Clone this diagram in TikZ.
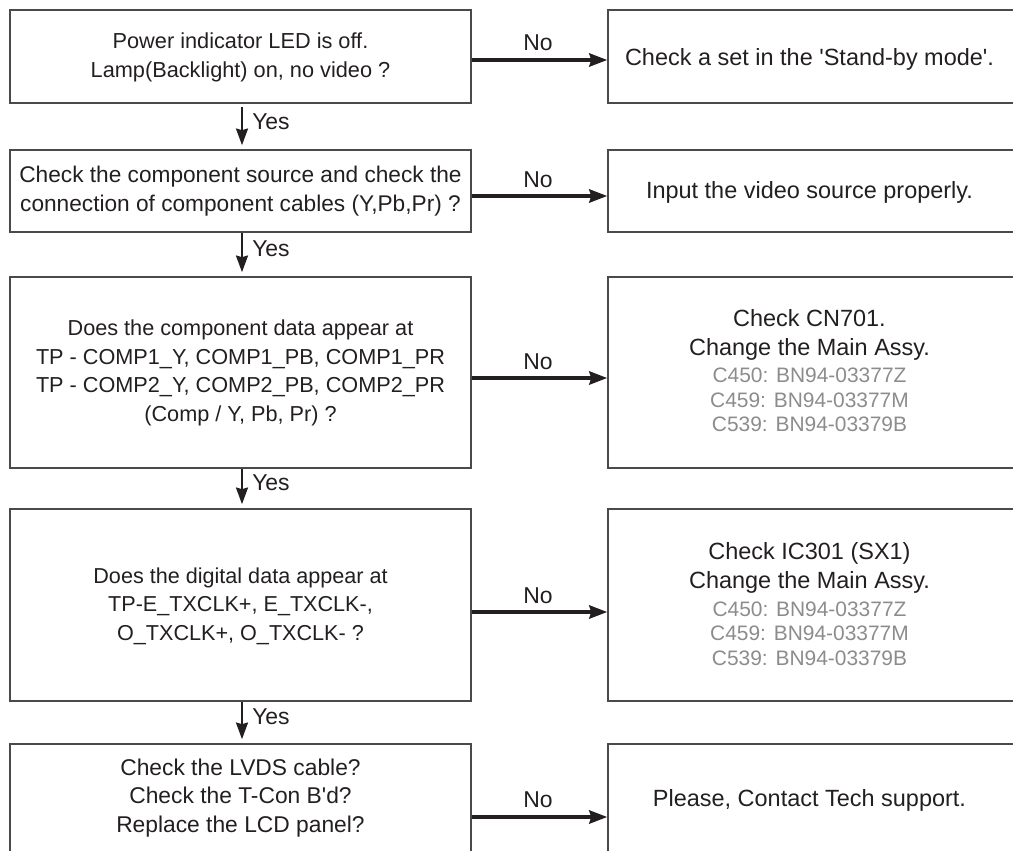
\documentclass[tikz,border=0pt]{standalone}
\usepackage{fontspec}
\setmainfont{Liberation Sans}[Ligatures=TeXOff]
\usetikzlibrary{arrows.meta}
\definecolor{ink}{HTML}{231F20}
\definecolor{frame}{HTML}{4A4A4A}
\definecolor{partgray}{HTML}{8C8C8C}
\tikzset{
  lbox/.style={draw=frame, line width=1.2pt, minimum width=461*0.75pt, inner sep=0pt},
  rbox/.style={draw=frame, line width=1.2pt, minimum width=412*0.75pt, inner sep=0pt},
  noarrow/.style={draw=ink, line width=2.3pt, -{Stealth[length=13.5pt,width=10pt,inset=1.5pt]}},
  yesarrow/.style={draw=ink, line width=1.5pt, -{Stealth[length=12.5pt,width=9pt,inset=1.2pt]}},
  lbl/.style={text=ink, inner sep=0pt, font=\fontsize{17.2pt}{20pt}\selectfont},
  ptxt/.style={text=ink, align=center, inner sep=0pt, font=\fontsize{17.6pt}{21.75pt}\selectfont},
  fsz/.style={font=\fontsize{#1}{21.4pt}\selectfont},
  parttxt/.style={text=partgray, align=center, inner sep=0pt, font=\fontsize{15.7pt}{18.5pt}\selectfont},
}
\begin{document}
\begin{tikzpicture}[x=0.75pt,y=-0.75pt]
\useasboundingbox (0,0) rectangle (1013,850);
\clip (0,0) rectangle (1013,850);
% left boxes
\node[lbox, minimum height=93*0.75pt] (q1) at (240.5,56.5) {};
\node[ptxt, fsz=16.3pt] (t1) at (240.5,57.5) {Power indicator LED is off.\\Lamp(Backlight) on, no video ?};
\node[lbox, minimum height=82*0.75pt] (q2) at (240.5,191) {};
\node[ptxt, fsz=17pt] (t2) at (240.5,191) {Check the component source and check the\\connection of component cables (Y,Pb,Pr) ?};
\node[lbox, minimum height=191*0.75pt] (q3) at (240.5,372.5) {};
\node[ptxt, fsz=16.25pt] (t3) at (240.5,373) {Does the component data appear at\\TP - COMP1\_Y, COMP1\_PB, COMP1\_PR\\TP - COMP2\_Y, COMP2\_PB, COMP2\_PR\\(Comp / Y, Pb, Pr) ?};
\node[lbox, minimum height=192*0.75pt] (q4) at (240.5,605) {};
\node[ptxt, fsz=16.2pt] (t4) at (240.5,606) {Does the digital data appear at\\TP-E\_TXCLK+, E\_TXCLK-,\\O\_TXCLK+, O\_TXCLK- ?};
\node[lbox, minimum height=130*0.75pt] (q5) at (240.5,809) {};
\node[ptxt, fsz=17.1pt] (t5) at (240.5,798) {Check the LVDS cable?\\Check the T-Con B'd?\\Replace the LCD panel?};
% right boxes
\node[rbox, minimum height=93*0.75pt] (a1) at (814,56.5) {};
\node[ptxt] (s1) at (809.5,59) {Check a set in the 'Stand-by mode'.};
\node[rbox, minimum height=82*0.75pt] (a2) at (814,191) {};
\node[ptxt] (s2) at (809.5,192) {Input the video source properly.};
\node[rbox, minimum height=191*0.75pt] (a3) at (814,372.5) {};
\node[ptxt] (s3) at (809.5,334.5) {Check CN701.\\Change the Main Assy.};
\node[parttxt] (p3) at (809.5,400) {C450: BN94-03377Z\\C459: BN94-03377M\\C539: BN94-03379B};
\node[rbox, minimum height=192*0.75pt] (a4) at (814,605) {};
\node[ptxt] (s4) at (809.5,567.5) {Check IC301 (SX1)\\Change the Main Assy.};
\node[parttxt] (p4) at (809.5,633.5) {C450: BN94-03377Z\\C459: BN94-03377M\\C539: BN94-03379B};
\node[rbox, minimum height=130*0.75pt] (a5) at (814,809) {};
\node[ptxt] (s5) at (809.5,800) {Please, Contact Tech support.};
% No arrows
\coordinate (n1s) at (q1.east |- 0,60);
\coordinate (n2s) at (q2.east |- 0,196);
\coordinate (n3s) at (q3.east |- 0,378);
\coordinate (n4s) at (q4.east |- 0,612);
\coordinate (n5s) at (q5.east |- 0,817);
\draw[noarrow] (n1s) -- (a1.west |- n1s);
\draw[noarrow] (n2s) -- (a2.west |- n2s);
\draw[noarrow] (n3s) -- (a3.west |- n3s);
\draw[noarrow] (n4s) -- (a4.west |- n4s);
\draw[noarrow] (n5s) -- (a5.west |- n5s);
\node[lbl] (no1) at (538,43) {No};
\node[lbl] (no2) at (538,180) {No};
\node[lbl] (no3) at (538,362) {No};
\node[lbl] (no4) at (538,596) {No};
\node[lbl] (no5) at (538,800) {No};
% Yes arrows
\coordinate (y1s) at (242,107);
\coordinate (y2s) at (242,233);
\coordinate (y3s) at (242,469);
\coordinate (y4s) at (242,702);
\draw[yesarrow] (y1s) -- ([yshift=3pt]q2.north -| y1s);
\draw[yesarrow] (y2s) -- ([yshift=3pt]q3.north -| y2s);
\draw[yesarrow] (y3s) -- ([yshift=3pt]q4.north -| y3s);
\draw[yesarrow] (y4s) -- ([yshift=3pt]q5.north -| y4s);
\node[lbl, anchor=west] (ys1) at (252,122) {Yes};
\node[lbl, anchor=west] (ys2) at (252,249) {Yes};
\node[lbl, anchor=west] (ys3) at (252,483) {Yes};
\node[lbl, anchor=west] (ys4) at (252,717) {Yes};
\end{tikzpicture}
\end{document}
